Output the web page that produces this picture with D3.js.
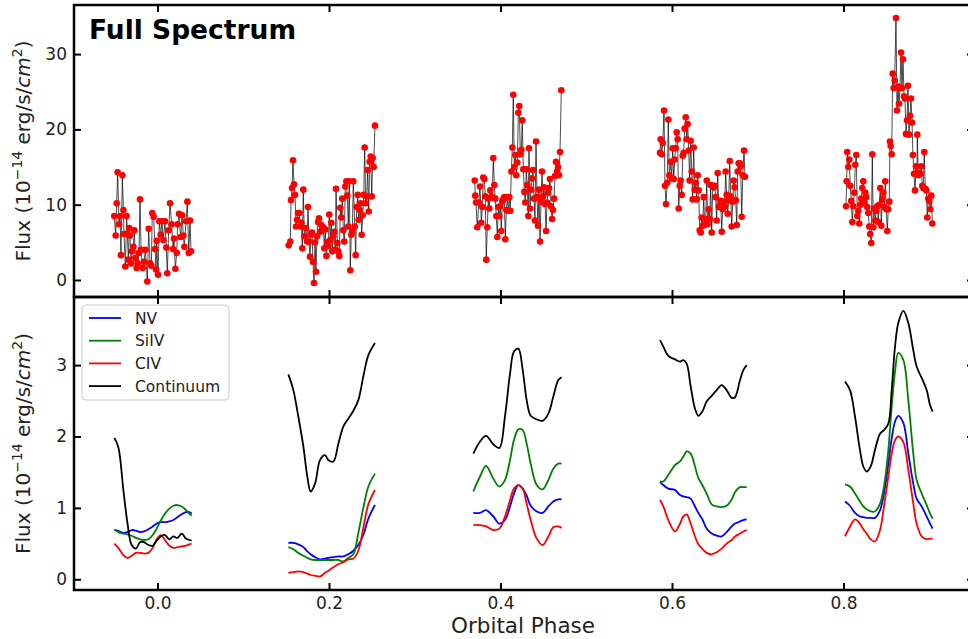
<!DOCTYPE html>
<html>
<head>
<meta charset="utf-8">
<script src="https://cdn.jsdelivr.net/npm/d3@7"></script>
<style>
  body { margin: 0; background: #fff; }
  svg text { font-family: "DejaVu Sans", sans-serif; }
</style>
</head>
<body>
<svg id="chart" width="968" height="639"></svg>
<script>
// ---- top panel: full spectrum flux per visit (phase, flux) ----
var phase1 = [-0.0504,-0.0488,-0.0476,-0.0465,-0.0449,-0.0437,-0.0426,-0.0410,-0.0398,-0.0391,-0.0375,-0.0360,-0.0352,-0.0340,-0.0329,-0.0321,-0.0309,-0.0297,-0.0282,-0.0270,-0.0259,-0.0243,-0.0231,-0.0216,-0.0204,-0.0192,-0.0173,-0.0157,-0.0142,-0.0119,-0.0103,-0.0087,-0.0072,-0.0061,-0.0045,-0.0029,-0.0017,-0.0010,0.0006,0.0021,0.0037,0.0052,0.0068,0.0087,0.0103,0.0114,0.0130,0.0146,0.0165,0.0181,0.0192,0.0208,0.0224,0.0235,0.0251,0.0270,0.0286,0.0301,0.0313,0.0332,0.0348,0.0364,0.0379,0.0391]
var flux1 = [8.5,5.9,10.2,14.3,7.4,8.5,3.3,13.9,9.3,6.1,1.8,8.5,6.1,2.7,6.9,5.9,2.2,3.8,4.4,6.6,2.9,1.6,2.2,3.6,10.7,4.0,1.6,2.4,4.0,-0.2,6.8,2.2,1.9,8.9,8.4,4.1,1.4,5.2,0.7,7.8,6.0,7.8,5.3,7.8,4.3,0.9,6.6,10.2,7.4,4.1,5.5,1.5,3.6,7.4,8.8,5.7,8.6,5.9,4.4,7.8,10.4,3.6,7.9,3.8]

var phase2 = [0.1530,0.1549,0.1557,0.1569,0.1580,0.1592,0.1604,0.1615,0.1627,0.1638,0.1654,0.1665,0.1677,0.1689,0.1700,0.1712,0.1729,0.1744,0.1755,0.1767,0.1778,0.1790,0.1802,0.1813,0.1825,0.1837,0.1848,0.1860,0.1872,0.1883,0.1898,0.1910,0.1922,0.1934,0.1945,0.1957,0.1969,0.1980,0.1992,0.2003,0.2015,0.2027,0.2038,0.2050,0.2062,0.2073,0.2082,0.2097,0.2108,0.2120,0.2132,0.2143,0.2155,0.2167,0.2178,0.2190,0.2202,0.2213,0.2225,0.2237,0.2248,0.2260,0.2272,0.2283,0.2300,0.2311,0.2323,0.2335,0.2346,0.2358,0.2370,0.2381,0.2393,0.2405,0.2416,0.2428,0.2440,0.2451,0.2463,0.2474,0.2486,0.2498,0.2509,0.2521,0.2536]
var flux2 = [4.6,5.1,10.6,12.2,15.9,12.7,11.3,7.1,8.0,8.9,8.9,7.1,7.6,4.2,12.0,5.8,6.9,5.1,9.7,5.1,3.1,6.0,6.3,2.4,-0.4,5.0,1.1,5.8,7.7,8.2,6.4,7.3,6.9,7.0,4.2,6.7,3.2,5.0,4.5,8.7,5.3,7.6,3.8,5.8,6.4,4.0,12.1,4.9,3.8,3.2,9.6,8.3,10.8,6.6,5.1,12.4,13.1,11.2,7.1,13.1,1.3,6.0,6.4,13.1,7.1,3.3,9.7,11.3,8.0,9.3,10.2,6.0,8.6,11.3,17.6,10.2,11.1,14.6,9.1,15.7,16.4,11.1,16.2,15.0,20.5]

var phase3 = [0.3699,0.3706,0.3714,0.3729,0.3746,0.3761,0.3776,0.3788,0.3799,0.3811,0.3822,0.3834,0.3846,0.3858,0.3869,0.3881,0.3893,0.3904,0.3916,0.3928,0.3939,0.3951,0.3963,0.3974,0.3986,0.3998,0.4009,0.4021,0.4033,0.4044,0.4056,0.4068,0.4079,0.4091,0.4103,0.4114,0.4126,0.4138,0.4149,0.4161,0.4173,0.4184,0.4196,0.4208,0.4219,0.4231,0.4243,0.4254,0.4266,0.4278,0.4289,0.4301,0.4312,0.4324,0.4332,0.4344,0.4356,0.4367,0.4379,0.4391,0.4402,0.4414,0.4426,0.4437,0.4449,0.4461,0.4472,0.4484,0.4496,0.4507,0.4519,0.4531,0.4542,0.4554,0.4566,0.4577,0.4589,0.4601,0.4612,0.4624,0.4636,0.4647,0.4659,0.4671,0.4682,0.4694,0.4709]
var flux3 = [13.2,11.2,10.3,7.0,10.3,12.4,7.6,9.7,13.6,13.4,11.1,2.7,7.0,10.8,9.5,11.9,11.0,11.0,16.2,12.6,10.8,8.5,5.7,9.7,8.5,9.8,6.5,10.5,10.7,11.0,5.4,9.3,11.0,9.2,11.0,9.2,14.4,17.6,24.6,15.0,16.6,13.9,15.6,22.2,23.1,16.7,17.3,21.2,14.7,11.7,10.3,14.7,12.6,8.5,17.5,9.5,12.0,13.5,14.6,10.8,7.9,18.4,11.0,7.2,12.0,5.1,10.4,14.4,11.1,12.3,10.1,6.5,10.3,11.6,12.2,13.4,9.8,8.1,9.3,10.8,13.8,15.7,14.4,15.0,13.9,17.0,25.2]

var phase4 = [0.5860,0.5868,0.5880,0.5892,0.5907,0.5918,0.5930,0.5945,0.5957,0.5969,0.5985,0.5996,0.6008,0.6020,0.6031,0.6043,0.6055,0.6066,0.6078,0.6090,0.6101,0.6113,0.6125,0.6136,0.6148,0.6160,0.6171,0.6183,0.6195,0.6206,0.6218,0.6230,0.6241,0.6253,0.6265,0.6276,0.6288,0.6300,0.6311,0.6323,0.6335,0.6346,0.6358,0.6370,0.6381,0.6393,0.6405,0.6416,0.6428,0.6440,0.6451,0.6463,0.6475,0.6486,0.6498,0.6510,0.6521,0.6533,0.6545,0.6556,0.6568,0.6580,0.6591,0.6603,0.6615,0.6626,0.6638,0.6650,0.6661,0.6673,0.6685,0.6696,0.6708,0.6720,0.6731,0.6743,0.6755,0.6766,0.6778,0.6790,0.6801,0.6813,0.6825,0.6840,0.6851]
var flux4 = [16.9,18.7,16.7,18.2,22.5,12.5,10.1,12.9,21.3,13.9,15.7,13.5,17.5,13.4,16.0,17.5,19.6,18.7,9.5,12.5,13.2,11.3,16.5,16.9,20.1,21.6,18.7,20.7,17.2,13.2,18.5,14.4,10.7,17.6,12.0,12.9,10.7,13.9,11.9,6.6,6.3,8.3,7.2,11.0,7.3,8.1,13.2,7.4,9.4,8.1,12.6,6.3,12.5,12.3,12.5,11.0,7.9,14.2,9.7,9.8,10.5,6.4,9.4,10.4,9.8,14.4,11.3,8.8,10.6,15.8,11.1,7.1,10.4,13.2,12.3,10.6,7.3,14.4,15.5,15.5,15.1,8.4,13.9,17.2,13.7]

var phase5 = [0.8029,0.8037,0.8044,0.8056,0.8068,0.8079,0.8091,0.8103,0.8114,0.8126,0.8138,0.8149,0.8161,0.8172,0.8184,0.8196,0.8207,0.8219,0.8231,0.8242,0.8254,0.8266,0.8277,0.8289,0.8301,0.8312,0.8324,0.8336,0.8347,0.8359,0.8371,0.8382,0.8394,0.8406,0.8417,0.8429,0.8441,0.8452,0.8464,0.8476,0.8487,0.8499,0.8511,0.8522,0.8534,0.8542,0.8550,0.8562,0.8574,0.8585,0.8597,0.8612,0.8624,0.8636,0.8647,0.8659,0.8671,0.8682,0.8694,0.8706,0.8717,0.8729,0.8741,0.8752,0.8764,0.8776,0.8787,0.8799,0.8810,0.8822,0.8834,0.8845,0.8857,0.8861,0.8872,0.8884,0.8896,0.8907,0.8919,0.8931,0.8942,0.8954,0.8966,0.8977,0.8989,0.9001,0.9012,0.9024,0.9036]
var flux5 = [9.8,13.1,17.0,15.0,16.0,12.5,10.5,7.7,9.8,11.6,15.3,16.6,8.5,9.2,7.5,10.0,10.8,12.2,13.1,10.3,11.6,11.0,9.7,8.9,7.1,6.1,4.9,16.7,7.0,9.5,7.9,9.2,9.8,7.7,10.0,12.2,7.2,10.7,11.6,9.7,13.1,9.4,6.5,9.4,10.4,18.4,17.8,16.7,27.4,25.5,26.5,34.8,22.5,25.7,23.4,25.5,30.2,25.5,29.3,24.4,24.1,19.4,21.2,25.8,19.3,21.8,24.1,20.9,16.6,14.1,11.9,15.1,14.2,19.3,13.9,14.2,14.1,15.1,12.5,12.2,17.0,12.1,11.9,8.3,10.8,10.5,9.4,11.2,7.5]

// ---- bottom panel: smoothed line fluxes, one grid per visit ----
var linePhase = [
  [-0.0503,-0.0457,-0.0398,-0.0352,-0.0301,-0.0251,-0.0204,-0.0157,-0.0107,-0.0056,-0.0010,0.0037,0.0087,0.0138,0.0185,0.0231,0.0282,0.0332,0.0371,0.0398],
  [0.1526,0.1584,0.1642,0.1701,0.1747,0.1786,0.1837,0.1895,0.1953,0.1992,0.2051,0.2109,0.2167,0.2225,0.2284,0.2342,0.2400,0.2459,0.2536],
  [0.3683,0.3761,0.3831,0.3916,0.3986,0.4052,0.4111,0.4157,0.4208,0.4259,0.4305,0.4352,0.4422,0.4492,0.4558,0.4616,0.4674,0.4713],
  [0.5860,0.5899,0.5957,0.6035,0.6093,0.6132,0.6171,0.6218,0.6268,0.6307,0.6358,0.6404,0.6463,0.6521,0.6579,0.6637,0.6696,0.6735,0.6793,0.6832,0.6871],
  [0.8017,0.8076,0.8134,0.8192,0.8231,0.8270,0.8317,0.8367,0.8426,0.8472,0.8523,0.8562,0.8601,0.8639,0.8698,0.8756,0.8814,0.8853,0.8912,0.8970,0.9009,0.9040]
]
var nvFlux = [
  [0.69,0.68,0.65,0.66,0.69,0.68,0.66,0.67,0.70,0.74,0.78,0.80,0.80,0.81,0.83,0.87,0.91,0.94,0.94,0.92],
  [0.51,0.51,0.49,0.45,0.39,0.35,0.31,0.28,0.29,0.30,0.31,0.32,0.32,0.35,0.40,0.48,0.62,0.85,1.04],
  [0.93,0.93,0.97,0.88,0.78,0.83,1.02,1.20,1.32,1.27,1.17,1.03,0.95,0.93,1.02,1.09,1.12,1.12],
  [1.36,1.32,1.27,1.25,1.18,1.16,1.15,1.13,1.02,0.93,0.83,0.71,0.64,0.61,0.60,0.66,0.74,0.78,0.81,0.83,0.84],
  [1.09,1.03,0.93,0.88,0.87,0.86,0.86,0.86,0.97,1.20,1.62,1.97,2.21,2.29,2.19,1.76,1.34,1.13,1.02,0.88,0.78,0.71]
]
var siivFlux = [
  [0.70,0.66,0.64,0.63,0.61,0.58,0.56,0.55,0.56,0.62,0.71,0.82,0.92,0.99,1.03,1.04,1.02,0.97,0.92,0.89],
  [0.45,0.42,0.37,0.33,0.30,0.28,0.27,0.27,0.27,0.27,0.27,0.27,0.25,0.30,0.35,0.65,1.00,1.30,1.48],
  [1.23,1.44,1.59,1.41,1.30,1.39,1.67,1.95,2.10,2.09,1.90,1.62,1.32,1.26,1.39,1.55,1.62,1.62],
  [1.37,1.37,1.46,1.60,1.65,1.72,1.79,1.76,1.58,1.42,1.31,1.20,1.05,1.02,1.01,1.03,1.12,1.22,1.29,1.29,1.29],
  [1.33,1.30,1.20,1.09,1.02,0.98,0.95,0.95,1.06,1.30,1.81,2.42,2.91,3.17,3.07,2.51,1.76,1.39,1.20,1.04,0.92,0.85]
]
var civFlux = [
  [0.50,0.44,0.34,0.30,0.33,0.37,0.37,0.36,0.37,0.44,0.56,0.62,0.55,0.47,0.44,0.45,0.46,0.47,0.49,0.50],
  [0.09,0.10,0.11,0.10,0.08,0.06,0.05,0.04,0.09,0.12,0.17,0.21,0.24,0.28,0.29,0.40,0.72,1.05,1.25],
  [0.76,0.76,0.74,0.69,0.71,0.88,1.11,1.27,1.32,1.27,1.06,0.83,0.57,0.48,0.60,0.73,0.74,0.72],
  [1.11,1.02,0.83,0.67,0.78,0.88,0.91,0.78,0.60,0.49,0.42,0.37,0.35,0.38,0.43,0.50,0.55,0.60,0.64,0.67,0.69],
  [0.60,0.74,0.84,0.78,0.70,0.64,0.56,0.53,0.69,1.02,1.44,1.76,1.95,2.00,1.92,1.53,1.06,0.78,0.60,0.56,0.57,0.57]
]
var contFlux = [
  [1.98,1.85,1.25,0.80,0.48,0.43,0.52,0.52,0.48,0.47,0.54,0.60,0.62,0.56,0.60,0.58,0.64,0.57,0.55,0.54],
  [2.87,2.65,2.28,1.86,1.44,1.23,1.34,1.67,1.74,1.67,1.65,1.90,2.14,2.25,2.36,2.51,2.84,3.14,3.31],
  [1.76,1.93,2.01,1.89,1.84,2.28,2.88,3.19,3.23,2.93,2.51,2.29,2.24,2.22,2.32,2.56,2.79,2.83],
  [3.35,3.26,3.13,3.08,3.05,3.07,3.02,2.70,2.39,2.29,2.36,2.49,2.57,2.65,2.72,2.65,2.54,2.55,2.79,2.93,3.00],
  [2.77,2.65,2.28,1.81,1.58,1.51,1.58,1.81,2.04,2.09,2.18,2.65,3.26,3.59,3.76,3.59,3.21,2.98,2.82,2.65,2.44,2.35]
]

var lineNames = ["NV", "SiIV", "CIV", "Continuum"]
var lineColors = ["#0000ff", "#008000", "#ff0000", "#000000"]
var xTicks = [0, 0.2, 0.4, 0.6, 0.8]
var topTicks = [0, 10, 20, 30]
var botTicks = [0, 1, 2, 3]

var svg = d3.select("#chart")
var left = 74, right = 974
var topPanel = {y0: 5, y1: 297}
var botPanel = {y0: 297, y1: 590}

var x = d3.scaleLinear().domain([-0.0974, 0.9522]).range([left, right])
var yTop = d3.scaleLinear().domain([-2.26, 36.52]).range([topPanel.y1, topPanel.y0])
var yBot = d3.scaleLinear().domain([-0.15, 3.954]).range([botPanel.y1, botPanel.y0])

// top panel data
var visits = [[phase1, flux1], [phase2, flux2], [phase3, flux3], [phase4, flux4], [phase5, flux5]]
  .map(function(v) { return d3.zip(v[0], v[1]) })

var gTop = svg.append("g")
var segLine = d3.line().x(d => x(d[0])).y(d => yTop(d[1]))
gTop.selectAll("path.visit")
  .data(visits)
  .enter().append("path")
  .attr("class", "visit")
  .attr("d", segLine)
  .attr("fill", "none")
  .attr("stroke", "#000")
  .attr("stroke-opacity", 0.7)
  .attr("stroke-width", 1)
gTop.selectAll("circle")
  .data(d3.merge(visits))
  .enter().append("circle")
  .attr("cx", d => x(d[0]))
  .attr("cy", d => yTop(d[1]))
  .attr("r", 3.3)
  .attr("fill", "#ff0000")

// bottom panel lines
var allLines = [nvFlux, siivFlux, civFlux, contFlux]
var smooth = d3.line().curve(d3.curveCatmullRom.alpha(0.5))
  .x(d => x(d[0])).y(d => yBot(d[1]))
var gBot = svg.append("g")
allLines.forEach(function(series, i) {
  series.forEach(function(seg, k) {
    gBot.append("path")
      .attr("d", smooth(d3.zip(linePhase[k], seg)))
      .attr("fill", "none")
      .attr("stroke", lineColors[i])
      .attr("stroke-width", 1.8)
  })
})

// axes, ticks pointing inwards on all four sides
function drawAxes(panel, yScale, yTicks, showX) {
  var fmtX = showX ? d3.format(".1f") : ""
  var ax = svg.append("g").attr("transform", "translate(0," + panel.y1 + ")")
    .call(d3.axisBottom(x).tickValues(xTicks).tickSize(-7).tickPadding(7).tickFormat(fmtX))
  var axT = svg.append("g").attr("transform", "translate(0," + panel.y0 + ")")
    .call(d3.axisTop(x).tickValues(xTicks).tickSize(-7).tickFormat(""))
  var ay = svg.append("g").attr("transform", "translate(" + left + ",0)")
    .call(d3.axisLeft(yScale).tickValues(yTicks).tickSize(-7).tickPadding(7).tickFormat(d3.format("d")))
  var ayR = svg.append("g").attr("transform", "translate(" + right + ",0)")
    .call(d3.axisRight(yScale).tickValues(yTicks).tickSize(-7).tickFormat(""))
  ;[ax, axT, ay, ayR].forEach(function(g) {
    g.select(".domain").remove()
    g.selectAll(".tick line").attr("stroke", "#000").attr("stroke-width", 2)
    g.selectAll(".tick text").attr("font-size", 17).attr("fill", "#222")
      .style("font-family", "DejaVu Sans")
  })
  svg.append("rect")
    .attr("x", left).attr("y", panel.y0)
    .attr("width", right - left).attr("height", panel.y1 - panel.y0)
    .attr("fill", "none").attr("stroke", "#000").attr("stroke-width", 2.5)
}
drawAxes(topPanel, yTop, topTicks, false)
drawAxes(botPanel, yBot, botTicks, true)

// title
svg.append("text")
  .attr("x", 89).attr("y", 39)
  .attr("font-size", 26.5).attr("font-weight", "bold")
  .text("Full Spectrum")

// y labels
function yLabel(cy) {
  var t = svg.append("text")
    .attr("transform", "translate(30," + cy + ") rotate(-90)")
    .attr("text-anchor", "middle")
    .attr("font-size", 20).attr("fill", "#222")
  t.append("tspan").text("Flux (10")
  t.append("tspan").attr("dy", -8).attr("font-size", 14).text("\u221214")
  t.append("tspan").attr("dy", 8).text(" erg/s/")
  t.append("tspan").attr("font-style", "italic").text("cm")
  t.append("tspan").attr("dy", -8).attr("font-size", 14).text("2")
  t.append("tspan").attr("dy", 8).text(")")
}
yLabel((topPanel.y0 + topPanel.y1) / 2)
yLabel((botPanel.y0 + botPanel.y1) / 2)

// x label
svg.append("text")
  .attr("x", (left + right) / 2 - 1).attr("y", 633)
  .attr("text-anchor", "middle")
  .attr("font-size", 21.5).attr("fill", "#222")
  .text("Orbital Phase")

// legend
var lg = svg.append("g").attr("transform", "translate(82,305)")
lg.append("rect")
  .attr("width", 147).attr("height", 95)
  .attr("rx", 4)
  .attr("fill", "#fff").attr("fill-opacity", 0.8)
  .attr("stroke", "#cccccc").attr("stroke-width", 1)
lineNames.forEach(function(name, i) {
  var yy = 13 + i * 22.7
  lg.append("line")
    .attr("x1", 7).attr("x2", 39).attr("y1", yy).attr("y2", yy)
    .attr("stroke", lineColors[i]).attr("stroke-width", 1.8)
  lg.append("text")
    .attr("x", 53).attr("y", yy + 5.5)
    .attr("font-size", 15.5).attr("fill", "#222")
    .text(name)
})
</script>
</body>
</html>
